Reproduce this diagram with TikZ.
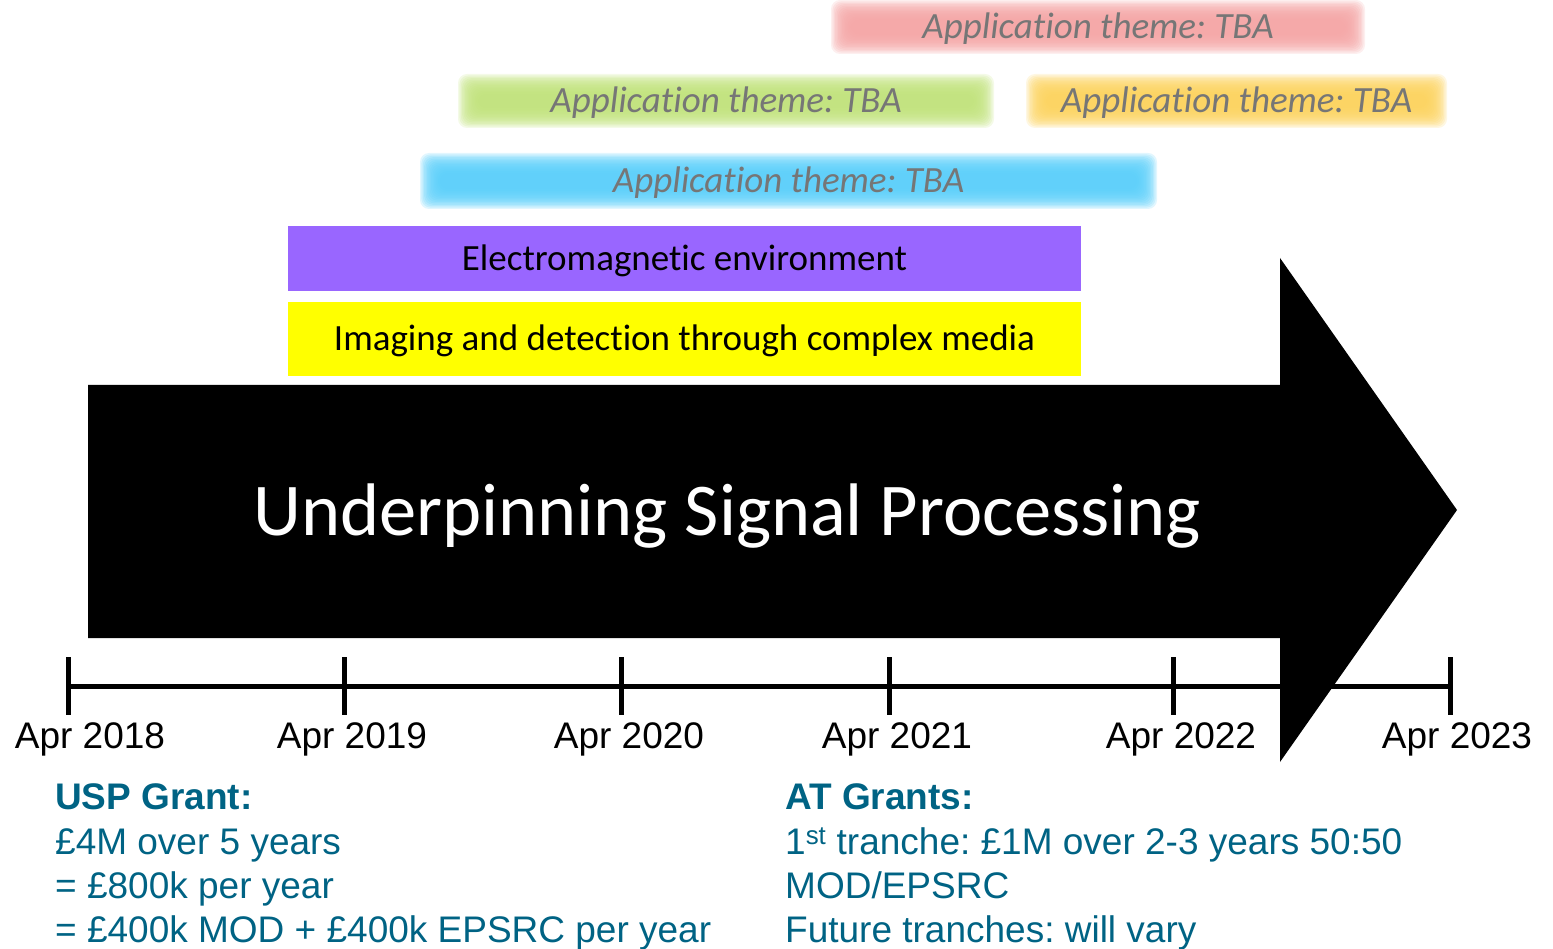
\documentclass[tikz,border=0pt]{standalone}
\usepackage{fontspec}
\setmainfont{Carlito}[Ligatures=NoCommon]
\newfontfamily\arialf{Liberation Sans}
\frenchspacing
\definecolor{tealtxt}{RGB}{0,99,132}
\definecolor{barred}{RGB}{244,164,164}
\definecolor{bargreen}{RGB}{192,226,122}
\definecolor{barorange}{RGB}{252,210,92}
\definecolor{barblue}{RGB}{88,206,250}
\definecolor{barpurple}{RGB}{153,102,255}
\definecolor{baryellow}{RGB}{255,255,0}
\definecolor{themegray}{RGB}{118,118,118}
\tikzset{
  appbar/.style={inner sep=0pt, font=\fontsize{37}{44}\selectfont\itshape, text=themegray, text height=23.8pt, text depth=0pt},
  themebox/.style={inner sep=0pt, minimum width=793pt, font=\fontsize{37}{44}\selectfont, text=black, text height=23.8pt, text depth=0pt},
  datelbl/.style={anchor=base, inner sep=0pt, font=\arialf\fontsize{37}{44}\selectfont},
  granttxt/.style={anchor=base west, inner sep=0pt, text=tealtxt, font=\arialf\fontsize{37}{44}\selectfont},
  granthead/.style={granttxt, font=\arialf\bfseries\fontsize{37}{44}\selectfont},
  axisline/.style={line width=5pt},
  bigarrow/.style={fill=black},
}
\newcommand\glowbar[6]{%
  \foreach \i in {-4,...,10}{%
    \fill[#6, opacity=0.18, rounded corners=9pt] ({#2-#4/2-\i*1.4},{#3-#5/2-\i*1.4}) rectangle ({#2+#4/2+\i*1.4},{#3+#5/2+\i*1.4});}
  \node[appbar, minimum width=#4, minimum height=#5] (#1) at (#2,#3) {Application theme: TBA};
}
\begin{document}
\begin{tikzpicture}[x=1pt,y=-1pt]
\useasboundingbox (0,0) rectangle (1553,949);

% application theme bars (soft edges)
\glowbar{red}{1098}{27}{506}{26}{barred}
\glowbar{green}{726}{101}{508}{26}{bargreen}
\glowbar{orange}{1236.5}{101}{393}{26}{barorange}
\glowbar{blue}{788.5}{181}{709}{28}{barblue}

% theme boxes
\node[themebox, fill=barpurple, minimum height=65pt] (em) at (684.5,258.5) {Electromagnetic environment};
\node[themebox, fill=baryellow, minimum height=74pt] (img) at (684.5,339) {Imaging and detection through complex media};

% time axis
\foreach \n/\x in {0/68,1/344,2/621,3/889,4/1173,5/1450}{
  \coordinate (t\n) at (\x,686);
}
\draw[axisline] (t0) -- (t5);
\foreach \n in {0,...,5}{
  \draw[axisline] ([yshift=29pt]t\n) -- ([yshift=-29pt]t\n);
}

% big arrow
\fill[bigarrow] (88,385) -- (1280,385) -- (1280,258) -- (1457,510) -- (1280,762) -- (1280,638) -- (88,638) -- cycle;
\node[font=\fontsize{74.5}{80}\selectfont, text=white, anchor=base, inner sep=0pt] (usp) at (727,535) {Underpinning Signal Processing};

% date labels
\node[datelbl] (d2018) at (90,748) {Apr 2018};
\node[datelbl] (d2019) at (352,748) {Apr 2019};
\node[datelbl] (d2020) at (629,748) {Apr 2020};
\node[datelbl] (d2021) at (897,748) {Apr 2021};
\node[datelbl] (d2022) at (1181,748) {Apr 2022};
\node[datelbl] (d2023) at (1457,748) {Apr 2023};

% grant texts
\node[granthead] (uspA) at (55,809) {USP Grant:};
\node[granttxt] (uspB) at (55,854) {£4M over 5 years};
\node[granttxt] (uspC) at (55,898) {= £800k per year};
\node[granttxt] (uspD) at (55,942) {= £400k MOD + £400k EPSRC per year};

\node[granthead] (atA) at (785,809) {AT Grants:};
\node[granttxt] (atB) at (785,854) {1\textsuperscript{st} tranche: £1M over 2-3 years 50:50};
\node[granttxt] (atC) at (785,898) {MOD/EPSRC};
\node[granttxt] (atD) at (785,942) {Future tranches: will vary};
\end{tikzpicture}
\end{document}
